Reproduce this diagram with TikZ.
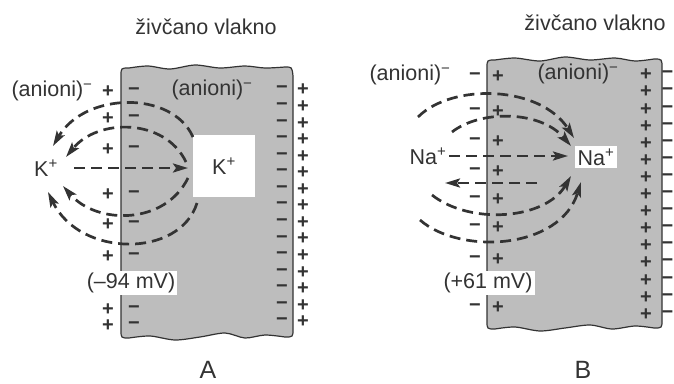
\documentclass[tikz,border=0pt]{standalone}
\usepackage{fontspec}
\setmainfont{Liberation Sans}
\usetikzlibrary{arrows.meta}
\definecolor{cellgray}{gray}{0.74}
\definecolor{ink}{gray}{0.2}
\begin{document}
\begin{tikzpicture}[x=1pt,y=-1pt,
  lbl/.style={font=\fontsize{21.5}{24}\selectfont, text=ink, inner sep=1pt},
  big/.style={font=\fontsize{25}{28}\selectfont, text=ink, inner sep=0pt},
  chg/.style={font=\fontsize{20}{22}\selectfont\bfseries, text=ink, inner sep=0pt},
  cellbox/.style={draw=ink, line width=1.2pt, fill=cellgray},
  flow/.style={draw=ink, line width=2.7pt, dash pattern=on 11pt off 6pt,
    -{Stealth[length=15pt,width=9pt,inset=3pt]}},
  whitebox/.style={fill=white, inner sep=2pt}
]
\useasboundingbox (0,0) rectangle (674,383);

% ---------- cell A ----------
\path[cellbox] (129,68) -- plot[smooth] coordinates {(129,68) (148,66) (170,69) (195,65) (220,68) (245,66) (265,68) (285,67)}
  .. controls (292,67) .. (293,76) -- (293,329) .. controls (293,337) .. (285,337)
  -- plot[smooth] coordinates {(285,337) (265,335) (245,338) (225,333) (200,337) (175,340) (150,336) (129,338)}
  .. controls (121,338) .. (121,330) -- (121,76) .. controls (121,68) .. (129,68) -- cycle;

% ---------- cell B ----------
\path[cellbox] (495,60) -- plot[smooth] coordinates {(495,60) (515,58) (540,61) (565,57) (590,60) (615,58) (635,61) (654,59)}
  .. controls (662,59) .. (662,68) -- (662,320) .. controls (662,328) .. (654,328)
  -- plot[smooth] coordinates {(654,328) (635,326) (612,329) (590,325) (565,328) (540,331) (515,327) (495,329)}
  .. controls (487,329) .. (487,321) -- (487,68) .. controls (487,60) .. (495,60) -- cycle;

% ---------- charges, right side ----------
\foreach \i in {0,...,14} {
  \node[chg] (arm\i) at (282,{90+\i*16.57}) {−};
  \node[chg] (arp\i) at (303,{90+\i*16.57}) {+};
  \node[chg] (brp\i) at (646,{75+\i*17.1}) {+};
  \node[chg] (brm\i) at (667.5,{75+\i*17.1}) {−};
}
% ---------- charges, left side ----------
\foreach \y [count=\k] in {92,119,150,195,225,257,310,326} {
  \node[chg] (alp\k) at (108,\y) {+};
  \node[chg] (alm\k) at (134,\y) {−};
}
\foreach \y [count=\k] in {77,112,142,172,200,228,260,308} {
  \node[chg] (blm\k) at (475,\y) {−};
  \node[chg] (blp\k) at (498,\y) {+};
}

% ---------- labels ----------
\node[lbl] (titleA) at (206,27) {živčano vlakno};
\node[lbl] (titleB) at (595,23) {živčano vlakno};
\node[lbl] (anA) at (52,91) {(anioni)\textsuperscript{−}};
\node[lbl] (aninA) at (212,90) {(anioni)\textsuperscript{−}};
\node[lbl] (anB) at (410,75) {(anioni)\textsuperscript{−}};
\node[lbl] (aninB) at (578,74) {(anioni)\textsuperscript{−}};
\node[lbl] (KoutA) at (46,168) {K\textsuperscript{+}};
\node[lbl, fill=white, minimum width=62pt, minimum height=62pt] (KinA) at (224,166) {K\textsuperscript{+}};
\node[lbl, whitebox] (mvA) at (131,283) {(–94 mV)};
\node[lbl] (NaoutB) at (428,156) {Na\textsuperscript{+}};
\node[lbl, whitebox, inner sep=3pt] (NainB) at (596,157) {Na\textsuperscript{+}};
\node[lbl, whitebox] (mvB) at (488,283) {(+61 mV)};
\node[big] (labA) at (208,370) {A};
\node[big] (labB) at (583,370) {B};

% ---------- flux arrows A ----------
\coordinate (a1s) at (193,137); \coordinate (a1e) at (53,146);
\coordinate (a2s) at (186,162); \coordinate (a2e) at (66,157);
\coordinate (a3s) at (74,168);  \coordinate (a3e) at (188,168);
\coordinate (a4s) at (188,178); \coordinate (a4e) at (63,186);
\coordinate (a5s) at (197,203); \coordinate (a5e) at (48,192);
\draw[flow] (a1s) .. controls (172,90) and (85,92) .. (a1e);
\draw[flow] (a2s) .. controls (165,118) and (98,118) .. (a2e);
\draw[flow] (a3s) -- (a3e);
\draw[flow] (a4s) .. controls (165,225) and (97,225) .. (a4e);
\draw[flow] (a5s) .. controls (180,258) and (80,258) .. (a5e);

% ---------- flux arrows B ----------
\coordinate (b1s) at (418,117); \coordinate (b1e) at (574,138);
\coordinate (b2s) at (452,132); \coordinate (b2e) at (571,146);
\coordinate (b3s) at (449,156); \coordinate (b3e) at (568,156);
\coordinate (b4s) at (537,183); \coordinate (b4e) at (445,183);
\coordinate (b5s) at (432,195); \coordinate (b5e) at (571,176);
\coordinate (b6s) at (420,220); \coordinate (b6e) at (581,182);
\draw[flow] (b1s) .. controls (452,83) and (540,85) .. (b1e);
\draw[flow] (b2s) .. controls (480,110) and (540,110) .. (b2e);
\draw[flow] (b3s) -- (b3e);
\draw[flow] (b4s) -- (b4e);
\draw[flow] (b5s) .. controls (470,225) and (545,220) .. (b5e);
\draw[flow] (b6s) .. controls (460,255) and (560,250) .. (b6e);
\end{tikzpicture}
\end{document}
